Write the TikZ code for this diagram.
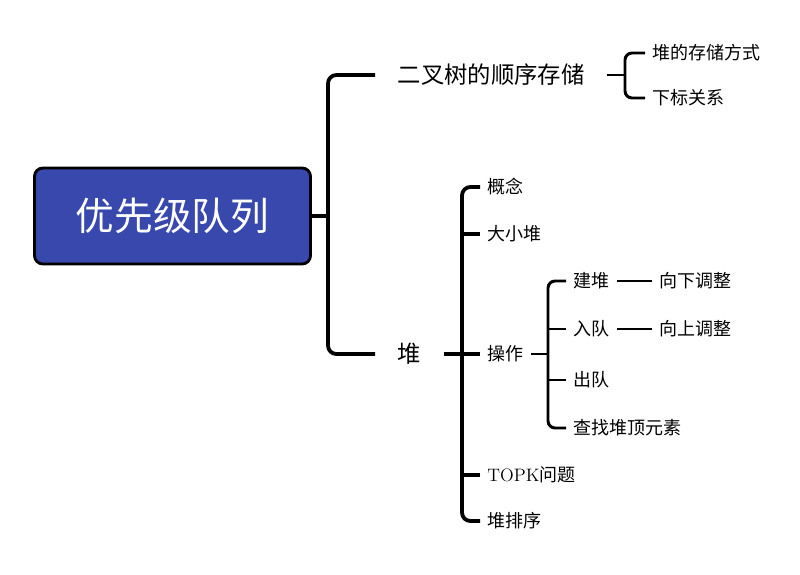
\documentclass[tikz,border=0pt]{standalone}
\usepackage{fontspec}
\newfontfamily\cjk{Noto Sans CJK SC}
\usetikzlibrary{positioning}
\definecolor{rootblue}{RGB}{56,72,172}

\begin{document}
\begin{tikzpicture}[x=0.025cm,y=-0.025cm,
	rootbox/.style={draw=black,line width=2pt,fill=rootblue,rounded corners=6pt,text=white,
		minimum width=6.9cm,minimum height=2.4cm,font=\cjk\fontsize{27.5}{30}\selectfont},
	topic/.style={anchor=west,inner xsep=16pt,inner ysep=0pt,font=\cjk\fontsize{16.6}{19}\selectfont},
	leaf/.style={anchor=west,inner xsep=5pt,inner ysep=0pt,font=\cjk\fontsize{12.8}{15}\selectfont},
	trunk/.style={line width=2.7pt,rounded corners=6pt},
	branch/.style={line width=2.1pt,rounded corners=5pt},
	link/.style={line width=1.4pt}]
	\useasboundingbox (0,0) rectangle (800,574);

	\node[rootbox] (root) at (172.5,216) {优先级队列}; % Root topic.

	\node[topic] (ecs) at (375,75) {二叉树的顺序存储};
	\node[topic] (heap) at (375,354) {堆};

	\node[leaf] (store) at (645,53) {堆的存储方式};
	\node[leaf] (index) at (645,98) {下标关系};

	\node[leaf] (concept) at (480,187) {概念};
	\node[leaf] (bigsmall) at (480,234) {大小堆};
	\node[leaf] (oper) at (480,354) {操作};
	\node[leaf] (topk) at (480,475) {{\rmfamily TOPK}问题};
	\node[leaf] (hsort) at (480,521) {堆排序};

	\node[leaf] (build) at (566,281) {建堆};
	\node[leaf] (enq) at (566,329) {入队};
	\node[leaf] (deq) at (566,380) {出队};
	\node[leaf] (peek) at (566,428) {查找堆顶元素};

	\node[leaf] (down) at (652,281) {向下调整};
	\node[leaf] (up) at (652,329) {向上调整};

	\coordinate (j0) at (328,216);
	\coordinate (j1) at (625,75);
	\coordinate (j2) at (462,354);
	\coordinate (j3) at (548,354);

	\draw[trunk] (root.east) -- (j0);
	\draw[trunk] (ecs.west) -| (j0) |- (heap.west); % Main bracket.

	\draw[branch] (ecs.east) -- (j1);
	\draw[branch] (store.west) -| (j1) |- (index.west);

	\draw[trunk] (heap.east) -- (j2);
	\draw[trunk] (concept.west) -| (j2) |- (hsort.west);
	\draw[trunk] (j2 |- bigsmall.west) -- (bigsmall.west);
	\draw[trunk] (j2 |- oper.west) -- (oper.west);
	\draw[trunk] (j2 |- topk.west) -- (topk.west);

	\draw[branch] (oper.east) -- (j3);
	\draw[branch] (build.west) -| (j3) |- (peek.west);
	\draw[branch] (j3 |- enq.west) -- (enq.west);
	\draw[branch] (j3 |- deq.west) -- (deq.west);

	\draw[link] (build.east) -- (down.west);
	\draw[link] (enq.east) -- (up.west);
\end{tikzpicture}
\end{document}
